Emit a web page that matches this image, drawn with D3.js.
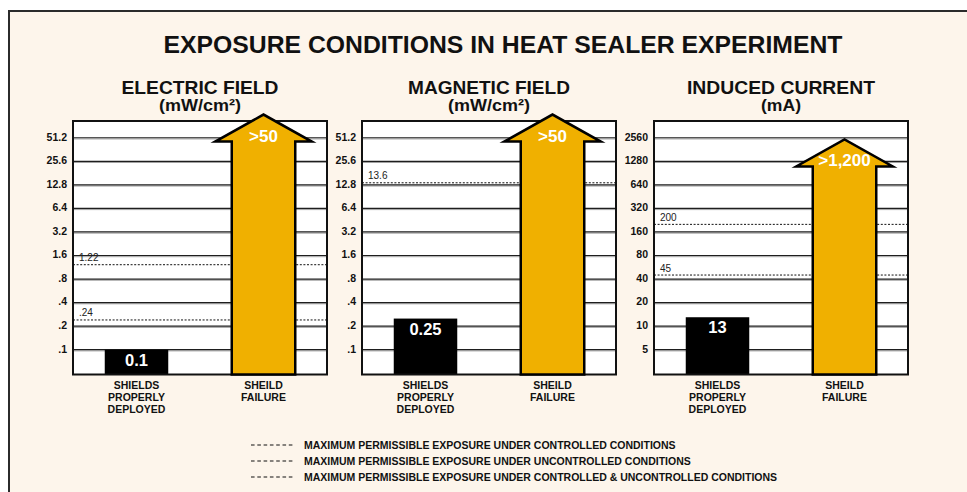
<!DOCTYPE html>
<html>
<head>
<meta charset="utf-8">
<script src="https://cdn.jsdelivr.net/npm/d3@7"></script>
<style>
  body { margin: 0; background: #fff; }
  svg { display: block; font-family: "Liberation Sans", Arial, Helvetica, sans-serif; }
</style>
</head>
<body>
<div id="chart"></div>
<script>
// Data.
const chartTitle = 'EXPOSURE CONDITIONS IN HEAT SEALER EXPERIMENT';
const panelTitles = ['ELECTRIC FIELD', 'MAGNETIC FIELD', 'INDUCED CURRENT'];
const panelUnits = ['(mW/cm²)', '(mW/cm²)', '(mA)'];
const categories = ['SHIELDS PROPERLY DEPLOYED', 'SHEILD FAILURE'];
const shieldedValues = [0.1, 0.25, 13];
const shieldedLabels = ['0.1', '0.25', '13'];
const failureValues = [50, 50, 1200];
const failureLabels = ['>50', '>50', '>1,200'];
const fieldTicks = [0.1, 0.2, 0.4, 0.8, 1.6, 3.2, 6.4, 12.8, 25.6, 51.2];
const fieldTickLabels = ['.1', '.2', '.4', '.8', '1.6', '3.2', '6.4', '12.8', '25.6', '51.2'];
const currentTicks = [5, 10, 20, 40, 80, 160, 320, 640, 1280, 2560];
const currentTickLabels = ['5', '10', '20', '40', '80', '160', '320', '640', '1280', '2560'];
const limitValues = [[1.22, 0.24], [13.6], [200, 45]];
const limitLabels = [['1.22', '.24'], ['13.6'], ['200', '45']];
const legendItems = [
  'MAXIMUM PERMISSIBLE EXPOSURE UNDER CONTROLLED CONDITIONS',
  'MAXIMUM PERMISSIBLE EXPOSURE UNDER UNCONTROLLED CONDITIONS',
  'MAXIMUM PERMISSIBLE EXPOSURE UNDER CONTROLLED & UNCONTROLLED CONDITIONS'
];

const W = 967, H = 492;
const cream = '#fdf5eb';
const gold = '#f0b000';
const narrow = '"Liberation Sans Narrow", "Arial Narrow", "Liberation Sans", Arial, sans-serif';

// Panel geometry
const panelLefts = [73, 362, 654];
const panelWidth = 254;
const frameTop = 121, frameBottom = 374.5;
const plotH = frameBottom - frameTop;

const svg = d3.select('#chart').append('svg')
  .attr('width', W)
  .attr('height', H);

// Outer frame (runs off the right and bottom edges)
svg.append('rect')
  .attr('x', 9).attr('y', 11)
  .attr('width', 1000).attr('height', 1000)
  .attr('fill', cream)
  .attr('stroke', '#2b2b2b')
  .attr('stroke-width', 2);

svg.append('text')
  .attr('x', 503).attr('y', 53)
  .attr('text-anchor', 'middle')
  .attr('font-family', narrow)
  .attr('font-weight', 'bold')
  .attr('font-size', 24)
  .attr('textLength', 679)
  .attr('lengthAdjust', 'spacingAndGlyphs')
  .attr('fill', '#111')
  .text(chartTitle);

const titleWidths = [157, 162, 188];
const unitWidths = [82, 82, 40];

panelTitles.forEach((title, i) => {
  const left = panelLefts[i];
  const isCurrent = i === 2;
  const ticks = isCurrent ? currentTicks : fieldTicks;
  const tickLabels = isCurrent ? currentTickLabels : fieldTickLabels;

  // Log2 scale: one doubling per grid line
  const y = d3.scaleLog().base(2)
    .domain(isCurrent ? [2.41, 4190] : [0.0482, 83.8])
    .range([plotH, 0]);
  const x = d3.scaleBand()
    .domain(categories)
    .range([0, panelWidth])
    .paddingInner(0.5)
    .paddingOuter(0.25);

  const cx = left + panelWidth / 2;
  svg.append('text')
    .attr('x', cx).attr('y', 93.5)
    .attr('text-anchor', 'middle')
    .attr('font-family', narrow)
    .attr('font-weight', 'bold')
    .attr('font-size', 18.5)
    .attr('textLength', titleWidths[i])
    .attr('lengthAdjust', 'spacingAndGlyphs')
    .attr('fill', '#111')
    .text(title);
  svg.append('text')
    .attr('x', cx).attr('y', 111)
    .attr('text-anchor', 'middle')
    .attr('font-family', narrow)
    .attr('font-weight', 'bold')
    .attr('font-size', 16)
    .attr('textLength', unitWidths[i])
    .attr('lengthAdjust', 'spacingAndGlyphs')
    .attr('fill', '#111')
    .text(panelUnits[i]);

  const g = svg.append('g')
    .attr('transform', `translate(${left},${frameTop})`);

  g.append('rect')
    .attr('width', panelWidth).attr('height', plotH)
    .attr('fill', '#fff');

  // Grid lines: dark line with a grey shadow underneath
  g.selectAll('line.grid-shadow').data(ticks).enter().append('line')
    .attr('class', 'grid-shadow')
    .attr('x1', 0).attr('x2', panelWidth)
    .attr('y1', d => y(d) + 1.2).attr('y2', d => y(d) + 1.2)
    .attr('stroke', '#a0a0a0').attr('stroke-width', 1);
  g.selectAll('line.grid').data(ticks).enter().append('line')
    .attr('class', 'grid')
    .attr('x1', 0).attr('x2', panelWidth)
    .attr('y1', d => y(d)).attr('y2', d => y(d))
    .attr('stroke', '#1e1e1e').attr('stroke-width', 1.2);

  // Y axis labels
  const yAxis = d3.axisLeft(y)
    .tickValues(ticks)
    .tickFormat((d, k) => tickLabels[k])
    .tickSize(0)
    .tickPadding(6);
  const ax = g.append('g').call(yAxis);
  ax.select('.domain').remove();
  ax.selectAll('text')
    .attr('font-family', '"Liberation Sans", Arial, sans-serif')
    .attr('font-weight', 'bold')
    .attr('font-size', 10.5)
    .attr('fill', '#111')
    .attr('dy', '0.22em');

  // Exposure limit lines
  limitValues[i].forEach((v, k) => {
    g.append('line')
      .attr('x1', 0).attr('x2', panelWidth)
      .attr('y1', y(v)).attr('y2', y(v))
      .attr('stroke', '#111').attr('stroke-width', 1)
      .attr('stroke-dasharray', '2,1.6');
    g.append('text')
      .attr('x', 6).attr('y', y(v) - 3.5)
      .attr('font-size', 10)
      .attr('fill', '#222')
      .text(limitLabels[i][k]);
  });

  // Shielded bar
  const bx = x(categories[0]);
  const bw = x.bandwidth();
  g.append('rect')
    .attr('x', bx).attr('y', y(shieldedValues[i]))
    .attr('width', bw).attr('height', plotH - y(shieldedValues[i]))
    .attr('fill', '#000');
  g.append('text')
    .attr('x', bx + bw / 2).attr('y', y(shieldedValues[i]) + 16)
    .attr('text-anchor', 'middle')
    .attr('font-weight', 'bold')
    .attr('font-size', 16.5)
    .attr('fill', '#fff')
    .text(shieldedLabels[i]);

  // Frame
  g.append('rect')
    .attr('width', panelWidth).attr('height', plotH)
    .attr('fill', 'none')
    .attr('stroke', '#111').attr('stroke-width', 2);

  // Failure arrow
  const ax0 = x(categories[1]);
  const acx = ax0 + bw / 2;
  const headBase = y(failureValues[i]) + 3;
  const headHalf = bw * 0.76;
  const tip = headBase - 27;
  const arrow = d3.path();
  arrow.moveTo(ax0, plotH);
  arrow.lineTo(ax0, headBase);
  arrow.lineTo(acx - headHalf, headBase);
  arrow.lineTo(acx, tip);
  arrow.lineTo(acx + headHalf, headBase);
  arrow.lineTo(ax0 + bw, headBase);
  arrow.lineTo(ax0 + bw, plotH);
  arrow.closePath();
  g.append('path')
    .attr('d', arrow.toString())
    .attr('fill', gold)
    .attr('stroke', '#000')
    .attr('stroke-width', 2.5)
    .attr('stroke-linejoin', 'miter');
  g.append('text')
    .attr('x', acx).attr('y', headBase)
    .attr('text-anchor', 'middle')
    .attr('font-weight', 'bold')
    .attr('font-size', 17)
    .attr('fill', '#fff')
    .text(failureLabels[i]);

  // Category labels
  categories.forEach(c => {
    const words = c.split(' ');
    const t = svg.append('text')
      .attr('text-anchor', 'middle')
      .attr('font-weight', 'bold')
      .attr('font-size', 10.5)
      .attr('fill', '#111');
    words.forEach((w, k) => {
      t.append('tspan')
        .attr('x', left + x(c) + bw / 2)
        .attr('y', 389 + k * 12)
        .text(w);
    });
  });
});

// Legend
const legend = svg.append('g').attr('transform', 'translate(251,445)');
legendItems.forEach((label, k) => {
  const row = legend.append('g').attr('transform', `translate(0,${k * 16})`);
  row.append('line')
    .attr('x1', 0).attr('x2', 44)
    .attr('stroke', '#111').attr('stroke-width', 1.2)
    .attr('stroke-dasharray', '3.6,2.7');
  row.append('text')
    .attr('x', 53).attr('y', 3.8)
    .attr('font-weight', 'bold')
    .attr('font-size', 10.5)
    .attr('fill', '#111')
    .text(label);
});
</script>
</body>
</html>
